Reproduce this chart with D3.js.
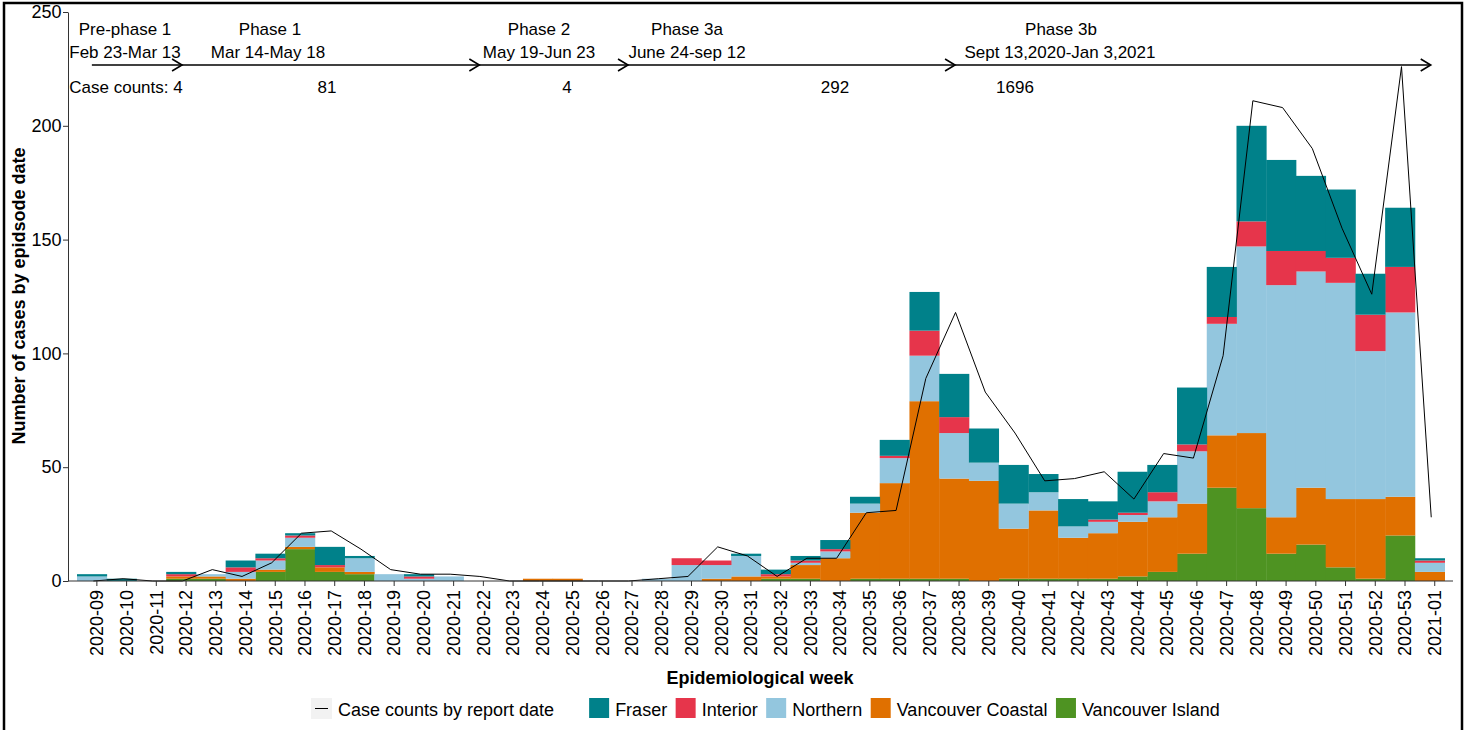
<!DOCTYPE html>
<html>
<head>
<meta charset="utf-8">
<script src="https://cdn.jsdelivr.net/npm/d3@7"></script>
<style>
  body { margin: 0; background: #fff; }
  svg { font-family: "Liberation Sans", Arial, sans-serif; }
</style>
</head>
<body>
<svg id="chart" width="1469" height="730"></svg>
<script>
// epidemiological weeks
const weeks = [
  "2020-09", "2020-10", "2020-11", "2020-12", "2020-13", "2020-14", "2020-15", "2020-16",
  "2020-17", "2020-18", "2020-19", "2020-20", "2020-21", "2020-22", "2020-23", "2020-24",
  "2020-25", "2020-26", "2020-27", "2020-28", "2020-29", "2020-30", "2020-31", "2020-32",
  "2020-33", "2020-34", "2020-35", "2020-36", "2020-37", "2020-38", "2020-39", "2020-40",
  "2020-41", "2020-42", "2020-43", "2020-44", "2020-45", "2020-46", "2020-47", "2020-48",
  "2020-49", "2020-50", "2020-51", "2020-52", "2020-53", "2021-01"
];

// cases by episode date, per health authority
const vancouverIsland = [0, 0, 0, 1, 1, 0, 4, 14, 4, 3, 0, 0, 0, 0, 0, 0, 0, 0, 0, 0, 0, 0, 0, 1,
  1, 0, 1, 1, 1, 1, 0, 1, 1, 1, 1, 2, 4, 12, 41, 32, 12, 16, 6, 1, 20, 0];
const vancouverCoastal = [0, 0, 0, 1, 1, 1, 1, 1, 2, 1, 0, 0, 0, 0, 0, 1, 1, 0, 0, 0, 0, 1, 2, 1,
  6, 10, 29, 42, 78, 44, 44, 22, 30, 18, 20, 24, 24, 22, 23, 33, 16, 25, 30, 35, 17, 4];
const northern = [2, 0, 0, 0, 1, 3, 4, 4, 0, 6, 3, 1, 2, 0, 0, 0, 0, 0, 0, 1, 7, 6, 9, 0,
  1, 3, 4, 11, 20, 20, 8, 11, 8, 5, 5, 3, 7, 23, 49, 82, 102, 95, 95, 65, 81, 4];
const interior = [0, 0, 0, 1, 0, 2, 1, 1, 1, 0, 0, 1, 0, 0, 0, 0, 0, 0, 0, 0, 3, 2, 0, 1,
  1, 1, 0, 1, 11, 7, 0, 0, 0, 0, 1, 1, 4, 3, 3, 11, 15, 9, 11, 16, 20, 1];
const fraser = [1, 1, 0, 1, 0, 3, 2, 1, 8, 1, 0, 1, 0, 0, 0, 0, 0, 0, 0, 0, 0, 0, 1, 2,
  2, 4, 3, 7, 17, 19, 15, 17, 8, 12, 8, 18, 12, 25, 22, 42, 40, 33, 30, 18, 26, 1];

// cases by report date
const reportCounts = [0, 1, 0, 0, 5, 2, 8, 21, 22, 14, 5, 3, 3, 2, 0, 0, 0, 0, 0, 1, 2, 15, 11, 2,
  10, 10, 30, 31, 89, 118, 83, 65, 44, 45, 48, 36, 56, 54, 99, 211, 208, 190, 155, 126, 226, 28];

const regions = ["Vancouver Island", "Vancouver Coastal", "Northern", "Interior", "Fraser"];
const regionValues = [vancouverIsland, vancouverCoastal, northern, interior, fraser];
const legendOrder = ["Fraser", "Interior", "Northern", "Vancouver Coastal", "Vancouver Island"];

// phase annotations
const phaseNames = ["Pre-phase 1", "Phase 1", "Phase 2", "Phase 3a", "Phase 3b"];
const phaseDates = ["Feb 23-Mar 13", "Mar 14-May 18", "May 19-Jun 23", "June 24-sep 12", "Sept 13,2020-Jan 3,2021"];
const phaseCounts = ["Case counts: 4", "81", "4", "292", "1696"];
const phaseEnds = ["2020-12", "2020-22", "2020-27", "2020-38", "2021-01"];
const yTicks = [0, 50, 100, 150, 200, 250];

const colors = {
  "Fraser": "#00818a",
  "Interior": "#e6354b",
  "Northern": "#93c6de",
  "Vancouver Coastal": "#e07000",
  "Vancouver Island": "#4e9322"
};

// layout
const svg = d3.select("#chart");
const plotLeft = 68, plotRight = 1453, plotTop = 12, plotBottom = 581;

const table = weeks.map((w, i) => {
  const row = { week: w };
  regions.forEach((r, j) => { row[r] = regionValues[j][i]; });
  return row;
});

const x = d3.scaleBand()
  .domain(weeks)
  .range([77, 1444.6])
  .padding(0);
const bw = x.bandwidth();

const y = d3.scaleLinear()
  .domain([0, 250])
  .range([plotBottom, plotTop]);

// outer frame
svg.append("rect")
  .attr("x", 4).attr("y", 3)
  .attr("width", 1458).attr("height", 740)
  .attr("fill", "none")
  .attr("stroke", "#000")
  .attr("stroke-width", 2.5);

// stacked bars
const series = d3.stack().keys(regions)(table);

svg.append("g")
  .selectAll("g")
  .data(series)
  .enter().append("g")
  .attr("fill", d => colors[d.key])
  .selectAll("rect")
  .data(d => d)
  .enter().append("rect")
  .attr("x", d => x(d.data.week))
  .attr("width", bw + 0.4)
  .attr("y", d => y(d[1]))
  .attr("height", d => y(d[0]) - y(d[1]));

// report date line
const line = d3.line()
  .x((d, i) => x(weeks[i]) + bw / 2 + 1.5)
  .y(d => y(d));

svg.append("path")
  .datum(reportCounts)
  .attr("fill", "none")
  .attr("stroke", "#000")
  .attr("stroke-width", 1)
  .attr("d", line);

// y axis
const yAxis = svg.append("g")
  .attr("transform", `translate(${plotLeft},0)`)
  .call(d3.axisLeft(y).tickValues(yTicks).tickSize(5).tickSizeOuter(0).tickPadding(1.5));
yAxis.select(".domain").attr("stroke", "#333");
yAxis.selectAll(".tick line").attr("stroke", "#333");
yAxis.selectAll("text").attr("fill", "#000").style("font-size", "18px")
  .style("font-family", "'Liberation Sans', Arial, sans-serif");

// x axis
svg.append("line")
  .attr("x1", plotLeft).attr("x2", plotRight)
  .attr("y1", plotBottom).attr("y2", plotBottom)
  .attr("stroke", "#333");

const xAxis = svg.append("g")
  .attr("transform", `translate(5,${plotBottom})`)
  .call(d3.axisBottom(x).tickSize(5).tickSizeOuter(0));
xAxis.select(".domain").remove();
xAxis.selectAll(".tick line").attr("stroke", "#333");
xAxis.selectAll("text")
  .attr("fill", "#000")
  .style("font-size", "18px")
  .style("font-family", "'Liberation Sans', Arial, sans-serif")
  .style("text-anchor", "end")
  .attr("transform", "rotate(-90)")
  .attr("x", -9)
  .attr("y", 0)
  .attr("dy", "0.35em");

// axis titles
svg.append("text")
  .attr("transform", "translate(25,296) rotate(-90)")
  .attr("text-anchor", "middle")
  .style("font-size", "18px")
  .style("font-weight", "bold")
  .text("Number of cases by epidsode date");

svg.append("text")
  .attr("x", 760).attr("y", 684)
  .attr("text-anchor", "middle")
  .style("font-size", "18px")
  .style("font-weight", "bold")
  .text("Epidemiological week");

// phase timeline
const arrowY = 65;
const ann = svg.append("g");
ann.append("line")
  .attr("x1", x(weeks[0]) + bw / 2)
  .attr("x2", x(phaseEnds[phaseEnds.length - 1]) + bw / 2)
  .attr("y1", arrowY).attr("y2", arrowY)
  .attr("stroke", "#000")
  .attr("stroke-width", 1.6);

ann.selectAll("path.head")
  .data(phaseEnds)
  .enter().append("path")
  .attr("class", "head")
  .attr("fill", "none")
  .attr("stroke", "#000")
  .attr("stroke-width", 1.6)
  .attr("d", d => {
    const cx = x(d) + bw / 2 + 1;
    return `M${cx - 10},${arrowY - 6}L${cx},${arrowY}L${cx - 10},${arrowY + 6}`;
  });

const nameX = [125, 270, 539, 687, 1061];
const dateX = [125, 268, 539, 687, 1060];
const countX = [126, 327, 567, 835, 1015];

const annText = (labels, xs, yPos) => {
  ann.selectAll(null)
    .data(labels)
    .enter().append("text")
    .attr("x", (d, i) => xs[i])
    .attr("y", yPos)
    .attr("text-anchor", "middle")
    .style("font-size", "17px")
    .text(d => d);
};
annText(phaseNames, nameX, 35);
annText(phaseDates, dateX, 58);
annText(phaseCounts, countX, 93);

// legend
const legend = svg.append("g").style("font-size", "18px");
let lx = 311;
const keyTop = 698, keySize = 20, textBase = 716;

legend.append("rect")
  .attr("x", lx).attr("y", keyTop)
  .attr("width", 21).attr("height", 21)
  .attr("fill", "#f2f2f2");
legend.append("line")
  .attr("x1", lx + 4).attr("x2", lx + 17)
  .attr("y1", keyTop + 10.5).attr("y2", keyTop + 10.5)
  .attr("stroke", "#000");
const lineLabel = legend.append("text")
  .attr("x", lx + 27).attr("y", textBase)
  .text("Case counts by report date");
lx = lx + 27 + lineLabel.node().getComputedTextLength() + 35;

legendOrder.forEach(name => {
  legend.append("rect")
    .attr("x", lx).attr("y", keyTop)
    .attr("width", keySize).attr("height", keySize)
    .attr("fill", colors[name]);
  const t = legend.append("text")
    .attr("x", lx + keySize + 6).attr("y", textBase)
    .text(name);
  lx = lx + keySize + 6 + t.node().getComputedTextLength() + 8.5;
});
</script>
</body>
</html>
